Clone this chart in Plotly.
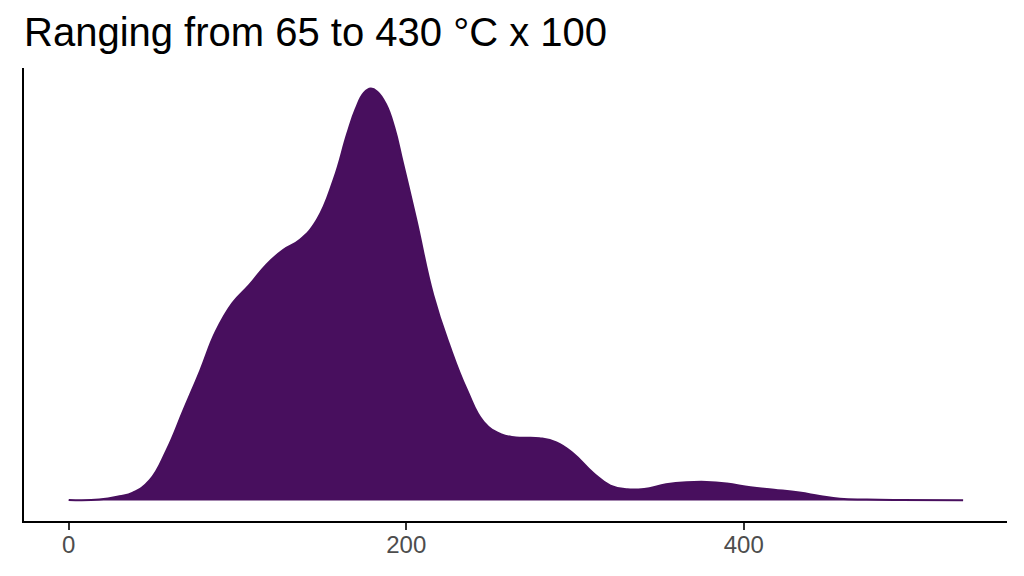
import plotly.graph_objects as go

# density estimate (x in data units, height relative to peak)
temp_x = [0, 18, 30, 38, 48, 58, 68, 78, 87, 97, 107, 117, 127, 137, 147, 157,
          165, 170, 175, 179, 183, 188, 193, 198, 206, 216, 226, 236, 246, 256,
          265, 279, 289, 299, 311, 321, 331, 341, 354, 366, 378, 390, 404, 418,
          433, 445, 457, 473, 493, 530]
density = [0.001, 0.002, 0.010, 0.019, 0.049, 0.122, 0.219, 0.316, 0.409, 0.479,
           0.523, 0.572, 0.608, 0.633, 0.681, 0.779, 0.890, 0.950, 0.990, 1.000,
           0.992, 0.962, 0.905, 0.820, 0.681, 0.499, 0.372, 0.268, 0.190, 0.161,
           0.153, 0.151, 0.141, 0.114, 0.066, 0.036, 0.027, 0.028, 0.039, 0.044,
           0.045, 0.041, 0.032, 0.026, 0.019, 0.011, 0.004, 0.002, 0.001, 0.0005]
x_ticks = [0, 200, 400]
title_text = "Ranging from 65 to 430 °C x 100"

FILL = "#480f5e"

# the page body adds ~8px of margin, so the figure is sized to fit inside it
W, H = 1008, 560

fig = go.Figure()
fig.add_trace(go.Scatter(
    x=temp_x,
    y=density,
    mode="lines",
    line=dict(color=FILL, width=2, shape="spline", smoothing=1.3),
    fill="tozeroy",
    fillcolor=FILL,
    hoverinfo="skip",
    showlegend=False,
))

fig.update_layout(
    width=W,
    height=H,
    paper_bgcolor="white",
    plot_bgcolor="white",
    margin=dict(l=16, r=9, t=60, b=47, autoexpand=False),
    font=dict(family="Liberation Sans, Arial, sans-serif"),
    title=dict(
        text=title_text,
        font=dict(size=40, color="black"),
        x=16 / W, xanchor="left", xref="container",
        y=1 - 24 / H, yanchor="middle", yref="container",
    ),
    xaxis=dict(
        range=[-26.5, 556],
        showgrid=False,
        zeroline=False,
        showline=True,
        linecolor="black",
        linewidth=2,
        ticks="outside",
        ticklen=7,
        tickwidth=2,
        tickcolor="#333333",
        tickvals=x_ticks,
        ticktext=[str(t) for t in x_ticks],
        tickfont=dict(size=24, color="#4d4d4d"),
        ticklabelstandoff=-6,
    ),
    yaxis=dict(
        range=[-0.05, 1.05],
        showgrid=False,
        zeroline=False,
        showline=True,
        linecolor="black",
        linewidth=2,
        showticklabels=False,
        ticks="",
    ),
)

fig.write_html("out.html")
